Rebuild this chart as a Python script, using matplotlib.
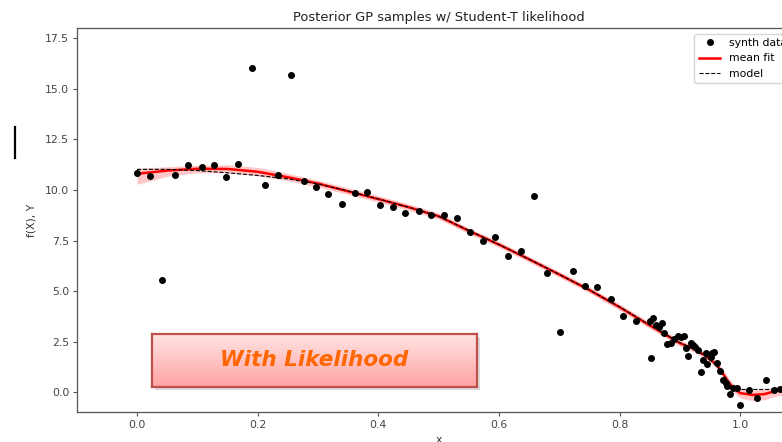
import numpy as np
import matplotlib
matplotlib.use("Agg")
import matplotlib.pyplot as plt
from matplotlib.lines import Line2D
from matplotlib.patches import Rectangle

# ---------------- data ----------------
data_x = [0.000, 0.021, 0.042, 0.063, 0.085, 0.107, 0.128, 0.147, 0.168, 0.191,
          0.212, 0.234, 0.256, 0.276, 0.297, 0.317, 0.339, 0.361, 0.382, 0.403,
          0.425, 0.445, 0.467, 0.488, 0.509, 0.531, 0.552, 0.573, 0.594, 0.615,
          0.636, 0.658, 0.679, 0.701, 0.722, 0.742, 0.763, 0.785, 0.806, 0.827,
          0.851, 0.852, 0.856, 0.860, 0.866, 0.870, 0.874, 0.878, 0.886, 0.891,
          0.897, 0.902, 0.906, 0.910, 0.913, 0.918, 0.921, 0.925, 0.930, 0.935,
          0.939, 0.943, 0.945, 0.951, 0.954, 0.957, 0.961, 0.967, 0.972, 0.976,
          0.978, 0.983, 0.988, 0.994, 1.000, 1.015, 1.028, 1.042, 1.056, 1.066]
data_y = [10.83, 10.69, 5.54, 10.76, 11.24, 11.15, 11.24, 10.66, 11.29, 16.04,
          10.25, 10.73, 15.69, 10.43, 10.16, 9.79, 9.32, 9.87, 9.90, 9.26,
          9.17, 8.85, 8.98, 8.75, 8.74, 8.61, 7.92, 7.46, 7.69, 6.75,
          6.99, 9.72, 5.88, 2.97, 5.99, 5.23, 5.20, 4.60, 3.78, 3.53,
          3.51, 1.67, 3.65, 3.32, 3.23, 3.43, 2.91, 2.38, 2.44, 2.61,
          2.77, 2.71, 2.77, 2.19, 1.80, 2.44, 2.33, 2.24, 2.08, 1.00,
          1.58, 1.95, 1.37, 1.75, 1.92, 2.00, 1.42, 1.05, 0.59, 0.43,
          0.30, -0.11, 0.21, 0.21, -0.64, 0.10, -0.31, 0.59, 0.10, 0.13]

curve_x = [0.00, 0.05, 0.10, 0.15, 0.20, 0.25, 0.30, 0.35, 0.40, 0.45,
           0.50, 0.55, 0.60, 0.65, 0.70, 0.75, 0.80, 0.85, 0.90, 0.92,
           0.94, 0.96, 0.97, 0.98, 0.99, 1.00, 1.02, 1.04, 1.06, 1.08, 1.10]
mean_fit = [10.80, 10.96, 11.05, 11.04, 10.90, 10.63, 10.32, 9.93, 9.55, 9.15,
            8.70, 7.98, 7.30, 6.57, 5.82, 5.05, 4.20, 3.30, 2.42, 2.18,
            1.85, 1.38, 0.98, 0.52, 0.15, -0.05, -0.14, -0.10, 0.06, 0.12, 0.14]
band_lo = [10.28, 10.68, 10.85, 10.85, 10.70, 10.45, 10.15, 9.78, 9.40, 9.00,
           8.56, 7.84, 7.16, 6.43, 5.68, 4.91, 4.05, 3.15, 2.27, 2.03,
           1.68, 1.20, 0.80, 0.33, -0.06, -0.30, -0.42, -0.38, -0.20, -0.12, -0.10]
band_hi = [11.07, 11.15, 11.22, 11.25, 11.12, 10.82, 10.48, 10.10, 9.72, 9.31,
           8.86, 8.12, 7.44, 6.71, 5.96, 5.20, 4.36, 3.46, 2.58, 2.33,
           2.01, 1.56, 1.17, 0.72, 0.35, 0.18, 0.10, 0.14, 0.28, 0.36, 0.40]
model_y = [11.02, 11.02, 10.96, 10.85, 10.72, 10.55, 10.30, 9.95, 9.56, 9.15,
           8.70, 8.00, 7.30, 6.57, 5.82, 5.05, 4.22, 3.32, 2.45, 2.16,
           1.82, 1.35, 0.95, 0.50, 0.15, 0.13, 0.13, 0.13, 0.13, 0.13, 0.13]

x_ticks = [0.0, 0.2, 0.4, 0.6, 0.8, 1.0]
y_ticks = [0.0, 2.5, 5.0, 7.5, 10.0, 12.5, 15.0, 17.5]

title = "Posterior GP samples w/ Student-T likelihood"
legend_labels = ["synth data", "mean fit", "model"]
badge_text = "With Likelihood"

# ---------------- figure ----------------
S = 0.78
plt.rcParams.update({
    "font.family": ["DejaVu Sans"],
    "font.size": 10 * S,
    "axes.linewidth": 0.9,
    "xtick.major.size": 3.5 * S,
    "ytick.major.size": 3.5 * S,
    "xtick.major.pad": 3.5 * S,
    "ytick.major.pad": 3.5 * S,
    "axes.edgecolor": "#555555",
    "xtick.color": "#555555",
    "ytick.color": "#555555",
    "xtick.labelcolor": "#444444",
    "ytick.labelcolor": "#444444",
})

fig = plt.figure(figsize=(7.82, 4.42), dpi=100)
ax = fig.add_axes([0.0981, 0.0672, 0.9256, 0.8688])

ax.fill_between(curve_x, band_lo, band_hi, color="red", alpha=0.22, lw=0)
ax.plot(data_x, data_y, "ko", ms=4.0, label=legend_labels[0], zorder=3)
ax.plot(curve_x, mean_fit, color="red", lw=1.8, label=legend_labels[1], zorder=2)
ax.plot(curve_x, model_y, "k--", lw=0.8, label=legend_labels[2], zorder=4)

ax.set_xlim(-0.1, 1.1)
ax.set_ylim(-1.0, 18.0)
ax.set_xticks(x_ticks)
ax.set_yticks(y_ticks)
ax.set_title(title, fontsize=12 * S, pad=5, color="#222222")
ax.set_xlabel("x", fontsize=10 * S, color="#333333")
ax.set_ylabel("f(X), Y", fontsize=10 * S, color="#333333", labelpad=6)
leg = ax.legend(loc="upper right", fontsize=10 * S, numpoints=1,
                bbox_to_anchor=(0.995, 1.0))

# artifact bar on the left
fig.add_artist(Line2D([0.0192, 0.0192], [0.642, 0.713], color="black", lw=1.6,
                      transform=fig.transFigure))

# ---------------- gradient badge ----------------
bx, by, bw, bh = 0.194, 0.1251, 0.4164, 0.1186
shadow = Rectangle((bx + 0.004, by - 0.007), bw, bh, transform=fig.transFigure,
                   facecolor="#999999", alpha=0.35, edgecolor="none", zorder=0.5)
fig.add_artist(shadow)
bax = fig.add_axes([bx, by, bw, bh], zorder=1)
top_c = np.array([1.0, 0.89, 0.89])
bot_c = np.array([1.0, 0.64, 0.64])
t = np.linspace(0, 1, 64)[:, None]
grad = (top_c[None, :] * (1 - t) + bot_c[None, :] * t)[:, None, :]
grad = np.repeat(grad, 2, axis=1)
bax.imshow(grad, aspect="auto", extent=[0, 1, 0, 1], origin="upper")
bax.set_xticks([])
bax.set_yticks([])
for sp in bax.spines.values():
    sp.set_color("#C0504D")
    sp.set_linewidth(1.6)
bax.text(0.5, 0.5, badge_text, ha="center", va="center", fontsize=15.5,
         fontweight="bold", fontstyle="italic", color="#FF6600",
         family=["DejaVu Sans"], transform=bax.transAxes)

fig.savefig("out.png", dpi=100)
